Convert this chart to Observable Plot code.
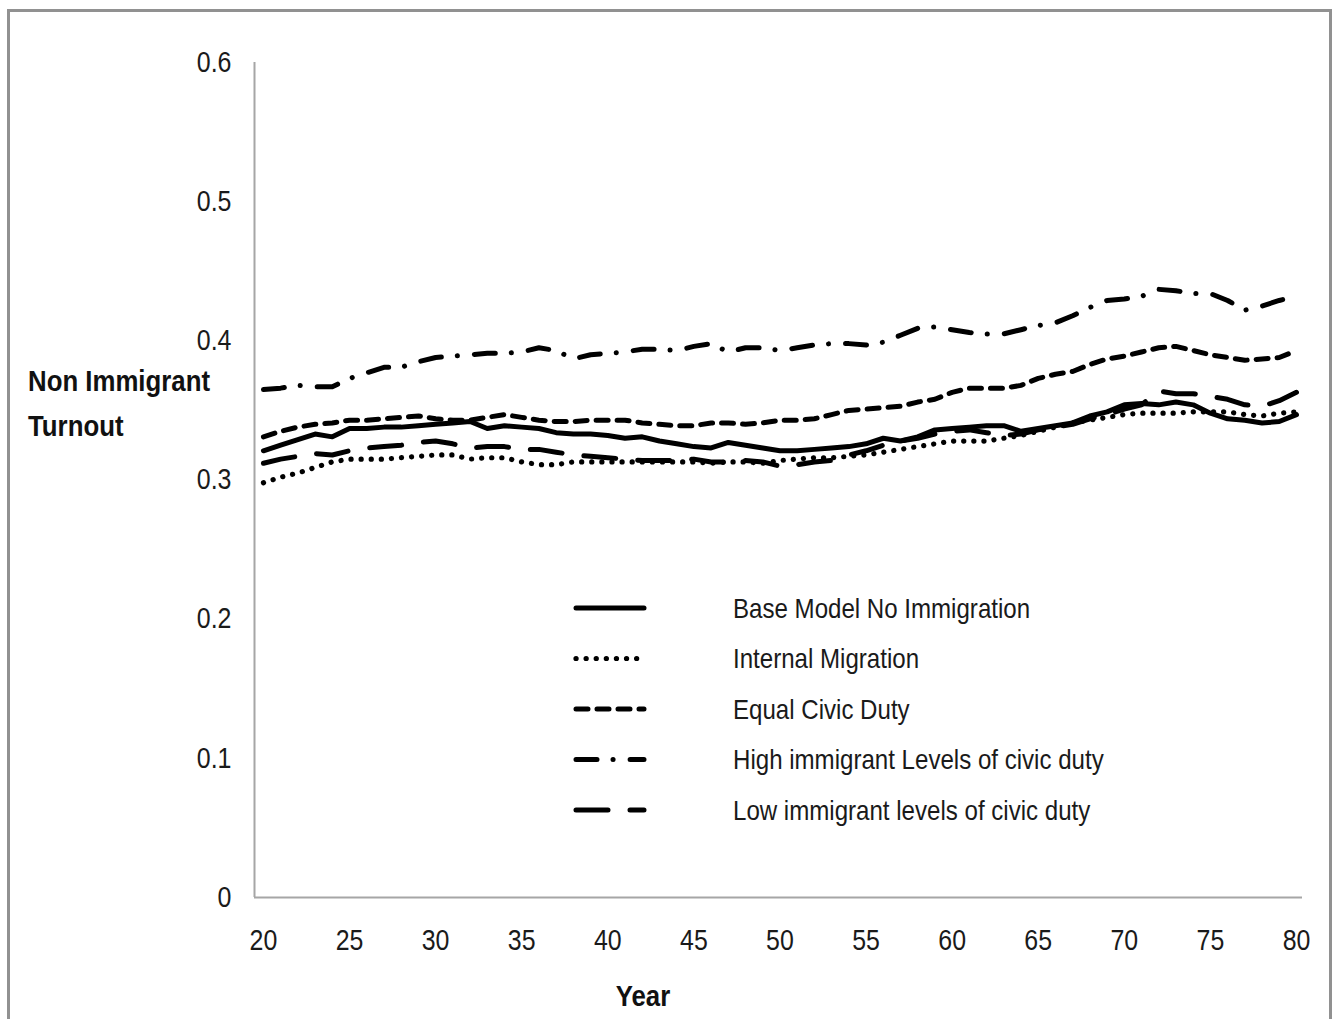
<!DOCTYPE html>
<html>
<head>
<meta charset="utf-8">
<script src="https://cdn.jsdelivr.net/npm/d3@7"></script>
<script src="https://cdn.jsdelivr.net/npm/@observablehq/plot@0.6"></script>
<style>
  html, body { margin: 0; padding: 0; background: #fff; overflow: hidden; }
  #wrap { position: relative; width: 1342px; height: 1019px; }
  #frame { position: absolute; left: 7px; top: 9px; width: 1325px; height: 1040px; border: 3px solid #919191; box-sizing: border-box; }
  #chart { position: absolute; left: 0; top: 0; }
</style>
</head>
<body>
<div id="wrap"><div id="frame"></div><div id="chart"></div></div>
<script>
const years = d3.range(20, 81);
const xTicks = [20, 25, 30, 35, 40, 45, 50, 55, 60, 65, 70, 75, 80];
const yTicks = [0, 0.1, 0.2, 0.3, 0.4, 0.5, 0.6];
const seriesNames = [
  "Base Model No Immigration",
  "Internal Migration",
  "Equal Civic Duty",
  "High immigrant Levels of civic duty",
  "Low immigrant levels of civic duty"
];
const baseModel = [0.321,0.325,0.329,0.333,0.331,0.337,0.337,0.338,0.338,0.339,0.340,0.341,0.342,0.337,0.339,0.338,0.337,0.334,0.333,0.333,0.332,0.330,0.331,0.328,0.326,0.324,0.323,0.327,0.325,0.323,0.321,0.321,0.322,0.323,0.324,0.326,0.330,0.328,0.331,0.336,0.337,0.338,0.339,0.339,0.335,0.337,0.339,0.341,0.346,0.349,0.354,0.355,0.354,0.356,0.354,0.348,0.344,0.343,0.341,0.342,0.347];
const internalMigration = [0.298,0.302,0.305,0.309,0.313,0.315,0.315,0.315,0.316,0.317,0.318,0.318,0.315,0.316,0.316,0.313,0.311,0.311,0.313,0.313,0.313,0.313,0.313,0.313,0.313,0.313,0.312,0.313,0.313,0.312,0.314,0.315,0.316,0.316,0.317,0.318,0.320,0.322,0.324,0.326,0.328,0.328,0.328,0.330,0.332,0.335,0.338,0.341,0.343,0.345,0.347,0.348,0.348,0.348,0.349,0.349,0.349,0.347,0.346,0.348,0.349];
const equalCivicDuty = [0.331,0.335,0.338,0.340,0.341,0.343,0.343,0.344,0.345,0.346,0.344,0.343,0.343,0.345,0.347,0.345,0.343,0.342,0.342,0.343,0.343,0.343,0.341,0.340,0.339,0.339,0.341,0.341,0.340,0.341,0.343,0.343,0.344,0.347,0.350,0.351,0.352,0.353,0.356,0.358,0.363,0.366,0.366,0.366,0.368,0.373,0.376,0.378,0.383,0.387,0.389,0.392,0.395,0.396,0.393,0.390,0.388,0.386,0.387,0.388,0.393];
const highCivicDuty = [0.365,0.366,0.368,0.367,0.367,0.373,0.377,0.381,0.381,0.385,0.388,0.389,0.390,0.391,0.391,0.392,0.395,0.393,0.387,0.390,0.391,0.392,0.394,0.394,0.393,0.396,0.398,0.392,0.395,0.395,0.393,0.395,0.397,0.398,0.398,0.397,0.399,0.404,0.409,0.410,0.408,0.406,0.405,0.405,0.408,0.411,0.413,0.418,0.424,0.429,0.430,0.432,0.437,0.436,0.434,0.434,0.429,0.422,0.425,0.429,0.432];
const lowCivicDuty = [0.312,0.315,0.317,0.319,0.318,0.321,0.323,0.324,0.325,0.327,0.328,0.326,0.323,0.324,0.324,0.322,0.322,0.320,0.318,0.317,0.316,0.315,0.314,0.314,0.314,0.315,0.313,0.313,0.314,0.313,0.310,0.311,0.313,0.314,0.318,0.321,0.325,0.328,0.330,0.333,0.335,0.336,0.334,0.332,0.333,0.336,0.338,0.340,0.344,0.347,0.351,0.354,0.364,0.362,0.362,0.360,0.358,0.354,0.353,0.357,0.363];

const seriesValues = [baseModel, internalMigration, equalCivicDuty, highCivicDuty, lowCivicDuty];
const dashes = [null, "0.1 10", "12 9", "21 16 0.1 17", "32 22"];
const widths = [5, 5.2, 5, 5, 5];

const xDomain = [19.48, 80.35];
const font = "'Liberation Sans', Arial, sans-serif";

const table = [];
seriesNames.forEach((s, i) => years.forEach((yr, j) => table.push({series: s, year: yr, value: seriesValues[i][j]})));

const lineMarks = seriesNames.map((s, i) => Plot.line(table.filter(d => d.series === s), {
  x: "year", y: "value", stroke: "#000", strokeWidth: widths[i],
  strokeDasharray: dashes[i], strokeLinecap: "round", strokeLinejoin: "round", curve: "linear"
}));

const plot = Plot.plot({
  width: 1342, height: 1019,
  marginLeft: 254, marginRight: 40, marginTop: 62, marginBottom: 122,
  style: {fontFamily: font, fontSize: "29px", color: "#1a1a1a", background: "transparent"},
  x: {domain: xDomain},
  y: {domain: [0, 0.6]},
  marks: [
    Plot.ruleX([xDomain[0]], {y1: 0, y2: 0.6, stroke: "#a6a6a6", strokeWidth: 2}),
    Plot.ruleY([0], {stroke: "#a6a6a6", strokeWidth: 2}),
    Plot.axisX({ticks: xTicks, tickFormat: d => String(d), tickSize: 0, tickPadding: 32, label: null, fontSize: 29}),
    Plot.axisY({ticks: yTicks, tickFormat: d => String(d), tickSize: 0, tickPadding: 23, label: null, fontSize: 29}),
    ...lineMarks
  ]
});
document.getElementById("chart").appendChild(plot);

const svg = d3.select(plot);
// axis titles
const yt = svg.append("text").attr("font-family", font).attr("font-weight", "bold").attr("font-size", 30)
  .attr("fill", "#111").attr("text-anchor", "start");
yt.append("tspan").attr("x", 28).attr("y", 391).text("Non Immigrant");
yt.append("tspan").attr("x", 28).attr("y", 436).text("Turnout");
svg.append("text").attr("font-family", font).attr("font-weight", "bold").attr("font-size", 30).attr("fill", "#111")
  .attr("x", 643).attr("y", 1006).attr("text-anchor", "middle").text("Year");

// legend
const lg = svg.append("g");
seriesNames.forEach((s, i) => {
  const y = 608 + i * 50.5;
  lg.append("line").attr("x1", 576).attr("x2", 644).attr("y1", y).attr("y2", y)
    .attr("stroke", "#000").attr("stroke-width", widths[i]).attr("stroke-linecap", "round")
    .attr("stroke-dasharray", dashes[i]);
  lg.append("text").attr("x", 733).attr("y", y).attr("dy", "0.35em").attr("text-anchor", "start")
    .attr("font-family", font).attr("font-size", 28).attr("fill", "#1a1a1a").text(s);
});

// narrow the glyphs to mimic the condensed face of the original
const squeeze = 0.86;
svg.selectAll("text").each(function() {
  const tspans = this.querySelectorAll("tspan");
  const els = tspans.length ? Array.from(tspans) : [this];
  els.forEach(el => {
    const len = el.getComputedTextLength();
    if (len > 0) {
      el.setAttribute("textLength", (len * squeeze).toFixed(1));
      el.setAttribute("lengthAdjust", "spacingAndGlyphs");
    }
  });
});
</script>
</body>
</html>
